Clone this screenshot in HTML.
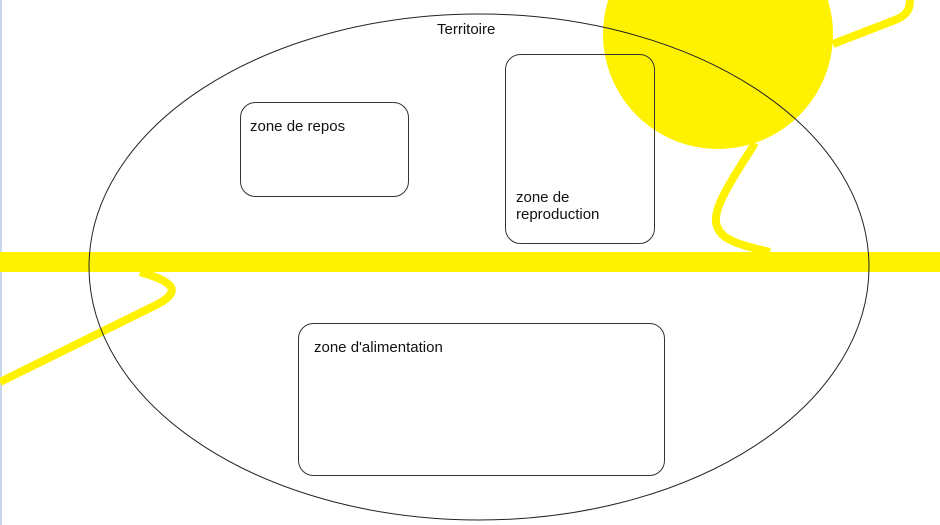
<!DOCTYPE html>
<html><head><meta charset="utf-8"><style>
html,body{margin:0;padding:0;background:#fff;}
svg{display:block;}
text{font-family:"Liberation Sans",sans-serif;font-size:15px;fill:#111;}
</style></head><body>
<svg width="940" height="525" viewBox="0 0 940 525">
<rect x="0" y="0" width="940" height="525" fill="#fff"/>
<rect x="0" y="0" width="2" height="525" fill="#c8d8ea"/>
<circle cx="718" cy="34" r="115" fill="#fff200"/>
<rect x="0" y="252" width="940" height="20" fill="#fff200"/>
<g fill="none" stroke="#fff200" stroke-width="8">
<path d="M140,272 C175,282 185,292 150,308 L0,382"/>
<path d="M770,252 C740,245 718,240 716,222 C714,205 735,175 755,143"/>
<path d="M833,44 L895,20 C908,15 910,8 910,0"/>
</g>
<ellipse cx="479" cy="267" rx="390" ry="253" fill="none" stroke="#222" stroke-width="1"/>
<g fill="none" stroke="#333" stroke-width="1">
<rect x="240.5" y="102.5" width="168" height="94" rx="15"/>
<rect x="505.5" y="54.5" width="149" height="189" rx="15"/>
<rect x="298.5" y="323.5" width="366" height="152" rx="15"/>
</g>
<text x="437" y="34">Territoire</text>
<text x="250" y="131">zone de repos</text>
<text x="516" y="202">zone de</text>
<text x="516" y="219">reproduction</text>
<text x="314" y="352">zone d'alimentation</text>
</svg>
</body></html>
